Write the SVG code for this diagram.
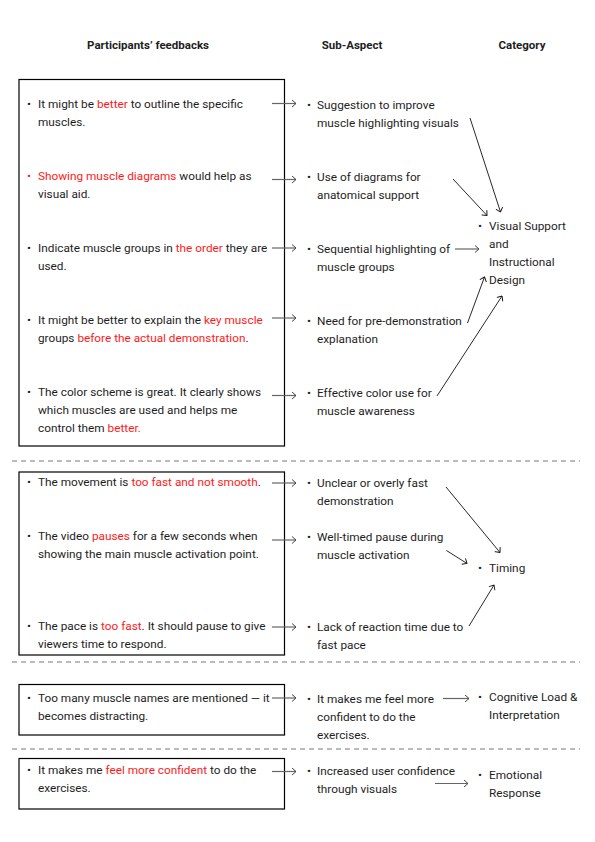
<svg xmlns="http://www.w3.org/2000/svg" width="595" height="842" viewBox="0 0 595 842">
<style>
text{font-family:Roboto,"Liberation Sans",sans-serif;font-size:11.8px;fill:#1e1e1e}
.h{font-weight:bold;font-size:11.5px;text-anchor:middle}
.r{fill:#ff1a1a}
.box{fill:none;stroke:#000;stroke-width:1.2}
.g{stroke:#666;stroke-width:1.2;fill:none;marker-end:url(#ag)}
.k{stroke:#111;stroke-width:0.9;fill:none;marker-end:url(#ak)}
.d{stroke:#777;stroke-width:1;stroke-dasharray:5,4}
</style>
<defs>
<marker id="ag" markerUnits="userSpaceOnUse" markerWidth="10" markerHeight="10" refX="7" refY="5" orient="auto">
<path d="M3,1.5 L7,5 L3,8.5" fill="none" stroke="#444" stroke-width="1"/>
</marker>
<marker id="ak" markerUnits="userSpaceOnUse" markerWidth="10" markerHeight="10" refX="7" refY="5" orient="auto">
<path d="M3,1.5 L7,5 L3,8.5" fill="none" stroke="#111" stroke-width="0.9"/>
</marker>
</defs>
<rect width="595" height="842" fill="#fff"/>
<g id="headers">
<text class="h" x="148" y="49">Participants’ feedbacks</text>
<text class="h" x="352" y="49">Sub-Aspect</text>
<text class="h" x="522" y="49">Category</text>
</g>
<g id="dividers">
<line class="d" x1="12" y1="461" x2="580" y2="461"/>
<line class="d" x1="12" y1="662" x2="580" y2="662"/>
<line class="d" x1="12" y1="749" x2="580" y2="749"/>
</g>
<g id="box-visual">
<rect class="box" x="19" y="79.5" width="265.5" height="366.5"/>
<text x="27" y="108">•</text>
<text x="38" y="108">It might be <tspan class="r">better</tspan> to outline the specific</text>
<text x="38" y="126">muscles.</text>
<text x="27" y="180" class="r">•</text>
<text x="38" y="180"><tspan class="r">Showing muscle diagrams</tspan> would help as</text>
<text x="38" y="198">visual aid.</text>
<text x="27" y="252">•</text>
<text x="38" y="252">Indicate muscle groups in <tspan class="r">the order</tspan> they are</text>
<text x="38" y="270">used.</text>
<text x="27" y="324">•</text>
<text x="38" y="324">It might be better to explain the <tspan class="r">key muscle</tspan></text>
<text x="38" y="342">groups <tspan class="r">before the actual demonstration</tspan>.</text>
<text x="27" y="396">•</text>
<text x="38" y="396">The color scheme is great. It clearly shows</text>
<text x="38" y="414">which muscles are used and helps me</text>
<text x="38" y="432">control them <tspan class="r">better.</tspan></text>
</g>
<g id="box-timing">
<rect class="box" x="19" y="472" width="265.5" height="183"/>
<text x="27" y="486">•</text>
<text x="38" y="486">The movement is <tspan class="r">too fast and not smooth</tspan>.</text>
<text x="27" y="540">•</text>
<text x="38" y="540">The video <tspan class="r">pauses</tspan> for a few seconds when</text>
<text x="38" y="558">showing the main muscle activation point.</text>
<text x="27" y="630">•</text>
<text x="38" y="630">The pace is <tspan class="r">too fast</tspan>. It should pause to give</text>
<text x="38" y="648">viewers time to respond.</text>
</g>
<g id="box-cognitive">
<rect class="box" x="19" y="684.5" width="265.5" height="50.5"/>
<text x="27" y="702">•</text>
<text x="38" y="702">Too many muscle names are mentioned — it</text>
<text x="38" y="720">becomes distracting.</text>
</g>
<g id="box-emotional">
<rect class="box" x="19" y="758.5" width="265.5" height="50.5"/>
<text x="27" y="774">•</text>
<text x="38" y="774">It makes me <tspan class="r">feel more confident</tspan> to do the</text>
<text x="38" y="792">exercises.</text>
</g>
<g id="sub-aspects">
<text x="307" y="109">•</text><text x="317" y="109">Suggestion to improve</text><text x="317" y="127">muscle highlighting visuals</text>
<text x="307" y="181">•</text><text x="317" y="181">Use of diagrams for</text><text x="317" y="199">anatomical support</text>
<text x="307" y="253">•</text><text x="317" y="253">Sequential highlighting of</text><text x="317" y="271">muscle groups</text>
<text x="307" y="325">•</text><text x="317" y="325">Need for pre-demonstration</text><text x="317" y="343">explanation</text>
<text x="307" y="397">•</text><text x="317" y="397">Effective color use for</text><text x="317" y="415">muscle awareness</text>
<text x="307" y="487">•</text><text x="317" y="487">Unclear or overly fast</text><text x="317" y="505">demonstration</text>
<text x="307" y="541">•</text><text x="317" y="541">Well-timed pause during</text><text x="317" y="559">muscle activation</text>
<text x="307" y="631">•</text><text x="317" y="631">Lack of reaction time due to</text><text x="317" y="649">fast pace</text>
<text x="307" y="703">•</text><text x="317" y="703">It makes me feel more</text><text x="317" y="721">confident to do the</text><text x="317" y="739">exercises.</text>
<text x="307" y="775">•</text><text x="317" y="775">Increased user confidence</text><text x="317" y="793">through visuals</text>
</g>
<g id="cat-visual">
<text x="478" y="230">•</text>
<text x="489" y="230">Visual Support</text>
<text x="489" y="248">and</text>
<text x="489" y="266">Instructional</text>
<text x="489" y="284">Design</text>
</g>
<g id="cat-timing">
<text x="478" y="572">•</text>
<text x="489" y="572">Timing</text>
</g>
<g id="cat-cognitive">
<text x="478" y="701">•</text>
<text x="489" y="701">Cognitive Load &amp;</text>
<text x="489" y="719">Interpretation</text>
</g>
<g id="cat-emotional">
<text x="478" y="779">•</text>
<text x="489" y="779">Emotional</text>
<text x="489" y="797">Response</text>
</g>
<g id="connectors">
<line class="g" x1="272" y1="103.5" x2="296" y2="103.5"/>
<line class="g" x1="272" y1="179.5" x2="296" y2="179.5"/>
<line class="g" x1="272" y1="248" x2="296" y2="248"/>
<line class="g" x1="272" y1="318" x2="296" y2="318"/>
<line class="g" x1="272" y1="395.5" x2="296" y2="395.5"/>
<line class="g" x1="272" y1="483" x2="296" y2="483"/>
<line class="g" x1="272" y1="540" x2="296" y2="540"/>
<line class="g" x1="272" y1="627" x2="296" y2="627"/>
<line class="g" x1="272" y1="698" x2="296" y2="698"/>
<line class="g" x1="272" y1="771.5" x2="296" y2="771.5"/>
<line class="g" x1="455" y1="249" x2="479" y2="249"/>
<line class="g" x1="443" y1="698.5" x2="469" y2="698.5"/>
<line class="g" x1="435" y1="783.5" x2="468" y2="783.5"/>
<line class="k" x1="470" y1="118" x2="500.5" y2="212"/>
<line class="k" x1="453" y1="179" x2="487" y2="215.5"/>
<line class="k" x1="467.5" y1="323" x2="484.5" y2="277"/>
<line class="k" x1="437" y1="396" x2="502" y2="296"/>
<line class="k" x1="446" y1="487" x2="500" y2="552.5"/>
<line class="k" x1="446.5" y1="550.5" x2="467" y2="563.5"/>
<line class="k" x1="469" y1="626" x2="494" y2="585"/>
</g>
</svg>
